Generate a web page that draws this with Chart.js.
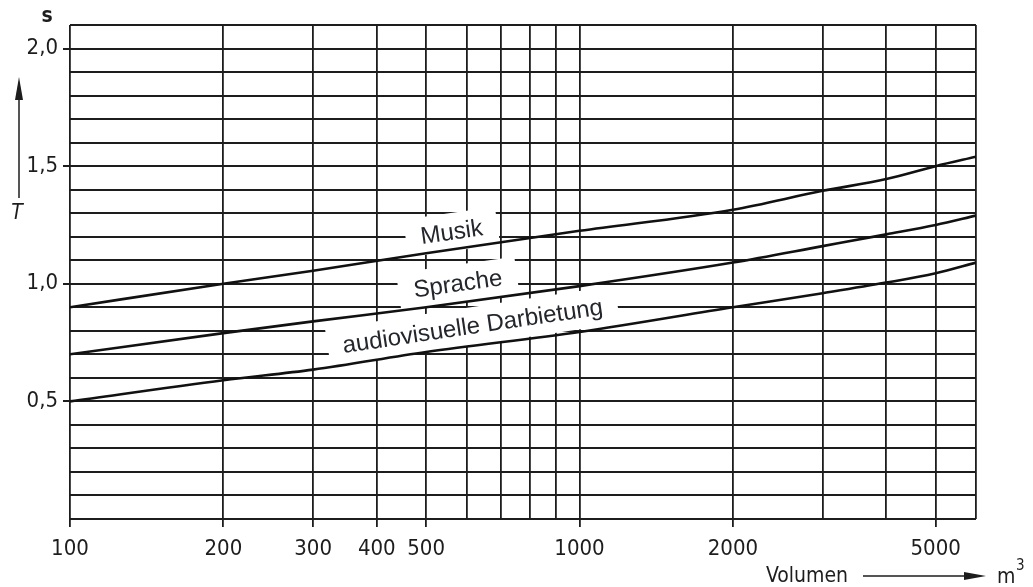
<!DOCTYPE html>
<html lang="de">
<head>
<meta charset="utf-8">
<title>Nachhallzeit T</title>
<script src="https://cdn.jsdelivr.net/npm/chart.js@4/dist/chart.umd.min.js"></script>
<style>
    body { margin: 0; background: #fff; }
    #wrap { width: 1033px; height: 587px; }
</style>
</head>
<body>
<div id="wrap"><canvas id="chart" width="1033" height="587"></canvas></div>
<script>
// Data
const volumes = [100, 200, 300, 500, 1000, 2000, 3000, 4000, 5000, 6000];
const musik = [0.90, 1.00, 1.055, 1.13, 1.225, 1.315, 1.395, 1.445, 1.50, 1.54];
const sprache = [0.70, 0.79, 0.84, 0.90, 0.99, 1.09, 1.16, 1.21, 1.25, 1.29];
const audiovisuell = [0.50, 0.59, 0.635, 0.71, 0.795, 0.90, 0.96, 1.005, 1.045, 1.09];
const curveNames = ['Musik', 'Sprache', 'audiovisuelle Darbietung'];

// Tick and grid values
const xGrid = [100, 200, 300, 400, 500, 600, 700, 800, 900, 1000, 2000, 3000, 4000, 5000, 6000];
const xLabels = [100, 200, 300, 400, 500, 1000, 2000, 5000];
const yLabels = [0.5, 1.0, 1.5, 2.0];

const ink = '#1d1d1d';
const digitFont = '"DejaVu Sans Condensed", "DejaVu Sans", sans-serif';

// where the curve names sit: [volume, T, angle in degrees]
const labelSpots = [[561, 1.22, -8], [577, 1.0, -8], [617, 0.82, -8.5]];

const pairs = vals => volumes.map((v, i) => ({ x: v, y: vals[i] }));

const decorations = {
    id: 'decorations',
    beforeDatasetsDraw(chart) {
        const { ctx, scales: { x, y } } = chart;
        ctx.save();
        ctx.font = '24px "Liberation Sans", Arial, sans-serif';
        curveNames.forEach((name, i) => {
            const [v, t, angle] = labelSpots[i];
            const w = ctx.measureText(name).width + 30;
            ctx.save();
            ctx.translate(x.getPixelForValue(v), y.getPixelForValue(t));
            ctx.rotate(angle * Math.PI / 180);
            ctx.fillStyle = '#fff';
            ctx.fillRect(-w / 2, -19, w, 38);
            ctx.fillStyle = '#23262d';
            ctx.textAlign = 'center';
            ctx.textBaseline = 'middle';
            ctx.fillText(name, 0, 1);
            ctx.restore();
        });
        ctx.restore();
    },
    afterDraw(chart) {
        const ctx = chart.ctx;
        ctx.save();
        ctx.fillStyle = ink;
        ctx.strokeStyle = ink;

        // unit and symbol of the y axis
        ctx.font = 'bold 21px ' + digitFont;
        ctx.textAlign = 'center';
        ctx.textBaseline = 'middle';
        ctx.fillText('s', 47, 17);
        ctx.lineWidth = 1.5;
        ctx.beginPath();
        ctx.moveTo(19, 198);
        ctx.lineTo(19, 92);
        ctx.stroke();
        ctx.beginPath();
        ctx.moveTo(19, 77);
        ctx.lineTo(15, 100);
        ctx.lineTo(23, 100);
        ctx.closePath();
        ctx.fill();
        ctx.font = 'italic 21px ' + digitFont;
        ctx.fillText('T', 17, 214);

        // x axis title with arrow
        ctx.font = '21px ' + digitFont;
        ctx.textAlign = 'left';
        ctx.fillText('Volumen', 766, 577);
        ctx.beginPath();
        ctx.moveTo(863, 576);
        ctx.lineTo(970, 576);
        ctx.stroke();
        ctx.beginPath();
        ctx.moveTo(986, 576);
        ctx.lineTo(964, 572);
        ctx.lineTo(964, 580);
        ctx.closePath();
        ctx.fill();
        ctx.fillText('m', 997, 578);
        ctx.font = '15px ' + digitFont;
        ctx.fillText('3', 1016, 566);
        ctx.restore();
    }
};

new Chart(document.getElementById('chart'), {
    type: 'line',
    data: {
        datasets: [
            { label: curveNames[0], data: pairs(musik) },
            { label: curveNames[1], data: pairs(sprache) },
            { label: curveNames[2], data: pairs(audiovisuell) }
        ]
    },
    options: {
        responsive: false,
        animation: false,
        layout: { padding: { top: 25, right: 57 } },
        plugins: { legend: { display: false }, tooltip: { enabled: false } },
        elements: {
            point: { radius: 0 },
            line: { borderColor: '#111', borderWidth: 2.6, cubicInterpolationMode: 'monotone', fill: false }
        },
        scales: {
            x: {
                type: 'logarithmic',
                min: 100,
                max: 6000,
                afterBuildTicks: axis => { axis.ticks = xGrid.map(v => ({ value: v })); },
                afterFit: axis => { axis.height = 68; },
                border: { display: false },
                grid: {
                    color: ink,
                    lineWidth: 1.8,
                    tickLength: 8,
                    tickColor: c => (c.tick && xLabels.includes(c.tick.value)) ? ink : 'rgba(0,0,0,0)'
                },
                ticks: {
                    autoSkip: false,
                    maxRotation: 0,
                    padding: 9,
                    color: ink,
                    font: { family: digitFont, size: 22 },
                    callback: v => xLabels.includes(v) ? String(v) : ''
                }
            },
            y: {
                min: 0,
                max: 2.1,
                afterFit: axis => { axis.width = 70; },
                border: { display: false },
                grid: {
                    color: ink,
                    lineWidth: 2,
                    tickLength: 7,
                    tickColor: c => (c.tick && yLabels.includes(Math.round(c.tick.value * 10) / 10)) ? ink : 'rgba(0,0,0,0)'
                },
                ticks: {
                    stepSize: 0.1,
                    autoSkip: false,
                    padding: 5,
                    color: ink,
                    font: { family: digitFont, size: 22 },
                    callback: v => {
                        const r = Math.round(v * 10) / 10;
                        return yLabels.includes(r) ? r.toFixed(1).replace('.', ',') : '';
                    }
                }
            }
        }
    },
    plugins: [decorations]
});
</script>
</body>
</html>
